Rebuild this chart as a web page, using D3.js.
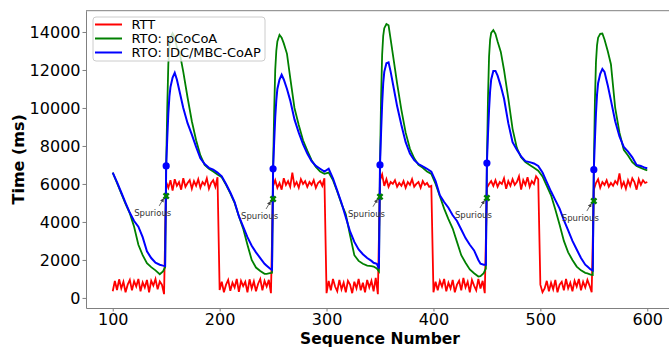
<!DOCTYPE html>
<html>
<head>
<meta charset="utf-8">
<script src="https://cdn.jsdelivr.net/npm/d3@7"></script>
<style>
body { margin:0; background:#fff; }
svg { display:block; font-family:"DejaVu Sans", sans-serif; }
</style>
</head>
<body>
<div id="chart"></div>
<script>
// RTT, one sample every 2 sequence numbers, 100 .. 600
var rttStart = 100, rttStep = 2
var rtt = [
	350,900,420,980,500,850,300,700,950,400,880,600,1000,350,820,550,950,300,900,650,1000,450,870,700,200,
	6100,5800,6200,5650,6250,5900,6100,5700,6300,5850,6050,6200,5750,6150,5900,6250,5800,6100,5950,6300,5750,6050,6200,5850,6350,
	420,850,300,700,950,380,800,550,1000,320,900,620,850,300,980,500,870,350,750,1000,400,900,600,950,250,
	5900,6200,5800,6050,5700,6300,5950,6150,5850,6600,5900,6100,5800,6250,6000,6150,5850,6100,5950,6200,5800,6050,6150,5900,6300,
	250,900,400,1000,600,350,950,450,800,300,900,700,250,850,500,1000,400,800,300,950,550,900,350,1050,200,
	6200,6500,5900,6250,5850,6100,6000,6200,5850,6050,5900,6150,5800,6100,5950,6250,5850,6000,6100,5800,6150,5950,6050,5850,5900,
	300,850,400,900,600,1000,350,800,500,950,300,700,900,400,1050,550,850,300,950,650,400,1000,500,900,250,
	5800,6000,6150,5900,6200,5850,6100,6000,6300,5750,6150,5900,6250,5950,6100,6400,5700,6200,5950,6350,5850,6150,6000,6400,6250,
	700,300,500,900,350,800,450,950,300,700,850,400,1000,500,800,350,900,600,1000,400,850,550,950,650,300,
	5700,6050,6250,5800,6100,5950,6200,5850,6050,5900,6150,6000,6550,5850,6100,5750,6200,5900,6300,6100,5700,6250,5950,6200,6050,
	6100
]

// RTO sample points (sequence numbers)
var rtoSeq = [
	100,104,108,112,116,120,124,128,132,136,140,144,147,149,
	150,151,152,153,154,156,158,160,163,166,170,174,178,182,186,190,194,198,202,206,210,214,218,222,226,230,234,238,242,244,247,249,
	250,251,252,253,254,256,258,260,263,266,270,274,278,282,286,290,294,298,302,306,310,314,318,322,326,330,334,338,342,344,347,349,
	350,351,352,353,354,356,358,360,363,366,370,374,378,382,386,390,394,398,402,406,410,414,418,422,426,430,434,438,442,444,447,449,
	450,451,452,453,454,456,458,460,463,466,470,474,478,482,486,490,494,498,502,506,510,514,518,522,526,530,534,538,542,544,547,549,
	550,551,552,553,554,556,558,560,563,566,570,574,578,582,586,590,594,598,600
]

var pcocoa = [
	6600,6050,5500,4950,4450,3750,2800,2250,1830,1620,1450,1250,1400,1620,
	7000,10000,12300,13300,13700,13930,13700,13200,12800,11900,10550,9300,8300,7500,7000,6800,6650,6500,6350,5950,5500,5000,4300,3650,2800,2000,1600,1420,1270,1270,1300,1320,
	6800,9800,12000,13000,13500,13850,13700,13400,12850,11600,10000,9100,8300,7750,7250,6900,6650,6530,6600,6200,5600,4950,4400,3300,2250,1950,1800,1700,1680,1650,1550,1400,
	7000,10500,12800,13800,14200,14420,14350,13600,12450,11300,9900,8700,7850,7350,7000,6850,6650,6530,6000,5350,4700,4150,3650,2950,2250,1850,1500,1300,1130,1150,1300,1550,
	7100,10500,12700,13600,13950,14100,13900,13500,12950,12000,10500,8900,7900,7400,7150,7000,6850,6700,6400,5900,5400,4650,3850,3000,2400,2000,1650,1450,1320,1290,1230,1210,
	6750,10300,12400,13300,13700,13900,13920,13600,13000,12300,10000,8700,7800,7500,7150,6950,6850,6750,6720
]

var idc = [
	6600,6100,5550,5000,4480,4050,3750,3200,2450,2100,1850,1750,1700,1680,
	6950,8400,9700,10600,11100,11600,11850,11500,10750,10000,9200,8600,7950,7350,7050,6850,6750,6600,6400,6000,5550,5050,4300,3750,3200,2750,2400,2100,1800,1700,1550,1480,
	6800,8200,9500,10400,11000,11500,11750,11500,11000,10400,9400,8700,8100,7600,7200,6950,6800,6650,6800,6300,5650,5000,4250,3500,2950,2550,2300,2100,1950,1850,1800,1550,
	7000,8700,10200,11300,11900,12350,12400,11900,11000,10100,9100,8200,7600,7250,7050,6920,6800,6650,6150,5400,5050,4750,4350,4050,3600,3150,2800,2500,2000,1800,1750,1750,
	7100,8600,9900,10900,11500,11950,11950,11700,11150,10500,9200,8200,7800,7450,7200,7150,7080,6950,6600,6100,5600,5150,4700,4100,3550,3000,2550,2100,1750,1650,1500,1450,
	6750,8300,9700,10700,11300,11800,12050,11900,11200,10400,9300,8500,7950,7700,7400,7000,6950,6850,6830
]

// spurious retransmissions
var spuriousSeq = [150,250,350,450,550]
var spuriousMark = [5370,5210,5330,5260,5100]

var xTicks = [100,200,300,400,500,600]
var yTicks = [0,2000,4000,6000,8000,10000,12000,14000]
var seriesNames = ["RTT","RTO: pCoCoA","RTO: IDC/MBC-CoAP"]
var seriesColors = ["#ff0000","#008000","#0000ff"]

var chart = {width:669, height:347}

var x = d3.scaleLinear().domain([75,625]).range([86,674])
var y = d3.scaleLinear().domain([-530,15120]).range([308,10.7])

var svg = d3.select("#chart")
	.append("svg")
	.attr("width",chart.width)
	.attr("height",chart.height)

svg.append("clipPath")
	.attr("id","plot-clip")
	.append("rect")
	.attr("x",x.range()[0])
	.attr("y",y.range()[1])
	.attr("width",x.range()[1]-x.range()[0])
	.attr("height",y.range()[0]-y.range()[1])

// axes
var xAxis = svg.append("g")
	.attr("transform","translate(0,"+y.range()[0]+")")
	.call(d3.axisBottom(x).tickValues(xTicks).tickSize(3.5).tickSizeOuter(0).tickPadding(2.5).tickFormat(d3.format("d")))
var yAxis = svg.append("g")
	.attr("transform","translate("+x.range()[0]+",0)")
	.call(d3.axisLeft(y).tickValues(yTicks).tickSize(3.5).tickSizeOuter(0).tickPadding(2).tickFormat(d3.format("d")))

svg.append("line")
	.attr("x1",x.range()[0]).attr("x2",x.range()[1])
	.attr("y1",y.range()[1]).attr("y2",y.range()[1])
	.attr("stroke","#808080")

svg.selectAll(".domain, .tick line").attr("stroke","#808080").attr("stroke-width",1)
svg.selectAll(".tick text").attr("fill","#000").attr("font-size",16).attr("font-family","DejaVu Sans")

svg.append("text")
	.attr("x",(x.range()[0]+x.range()[1])/2)
	.attr("y",343.6)
	.attr("text-anchor","middle")
	.attr("font-size",15.5)
	.attr("font-weight","bold")
	.text("Sequence Number")

svg.append("text")
	.attr("transform","translate(24,"+((y.range()[0]+y.range()[1])/2)+") rotate(-90)")
	.attr("text-anchor","middle")
	.attr("font-size",16)
	.attr("font-weight","bold")
	.text("Time (ms)")

// lines
var plot = svg.append("g").attr("clip-path","url(#plot-clip)")

var rttLine = d3.line()
	.x(function(d,i){ return x(rttStart+i*rttStep) })
	.y(function(d){ return y(d) })
var rtoLine = d3.line()
	.x(function(d,i){ return x(rtoSeq[i]) })
	.y(function(d){ return y(d) })

plot.append("path").datum(rtt)
	.attr("d",rttLine).attr("fill","none").attr("stroke",seriesColors[0]).attr("stroke-width",1.8)
plot.append("path").datum(pcocoa)
	.attr("d",rtoLine).attr("fill","none").attr("stroke",seriesColors[1]).attr("stroke-width",1.8)
plot.append("path").datum(idc)
	.attr("d",rtoLine).attr("fill","none").attr("stroke",seriesColors[2]).attr("stroke-width",2)

// spurious markers and notes
svg.append("defs").append("marker")
	.attr("id","arrow")
	.attr("viewBox","0 0 10 10")
	.attr("refX",9).attr("refY",5)
	.attr("markerWidth",5).attr("markerHeight",5)
	.attr("orient","auto")
	.append("path").attr("d","M0,0 L10,5 L0,10 z").attr("fill","#444")

var notes = svg.selectAll("g.spurious")
	.data(spuriousSeq)
	.enter()
	.append("g")
	.attr("class","spurious")

notes.append("circle")
	.attr("cx",function(d){ return x(d) })
	.attr("cy",function(d){ return y(idc[rtoSeq.indexOf(d)]) })
	.attr("r",3.6)
	.attr("fill",seriesColors[2])

notes.append("path")
	.attr("d",d3.symbol().type(d3.symbolCross).size(30))
	.attr("transform",function(d,i){ return "translate("+x(d)+","+y(spuriousMark[i])+") rotate(45)" })
	.attr("fill",seriesColors[1])

notes.append("line")
	.attr("x1",function(d){ return x(d)-7 })
	.attr("y1",function(d,i){ return y(spuriousMark[i])+10 })
	.attr("x2",function(d){ return x(d)-2.5 })
	.attr("y2",function(d,i){ return y(spuriousMark[i])+2.5 })
	.attr("stroke","#444")
	.attr("stroke-width",0.8)
	.attr("marker-end","url(#arrow)")

notes.append("text")
	.attr("x",function(d){ return x(d)-13.5 })
	.attr("y",function(d,i){ return y(spuriousMark[i])+17 })
	.attr("dy","0.35em")
	.attr("text-anchor","middle")
	.attr("font-size",8.5)
	.attr("fill","#333")
	.text("Spurious")

// legend
var legend = svg.append("g")
legend.append("rect")
	.attr("x",93).attr("y",17).attr("width",172).attr("height",44).attr("rx",3)
	.attr("fill","#fff").attr("fill-opacity",0.8)
	.attr("stroke","#cccccc")
var rows = legend.selectAll("g.row")
	.data(seriesNames)
	.enter()
	.append("g")
	.attr("transform",function(d,i){ return "translate(0,"+(24.5+i*14)+")" })
rows.append("line")
	.attr("x1",95).attr("x2",122)
	.attr("stroke",function(d,i){ return seriesColors[i] })
	.attr("stroke-width",2)
rows.append("text")
	.attr("x",131.5)
	.attr("dy","0.36em")
	.attr("font-size",13)
	.text(function(d){ return d })
</script>
</body>
</html>
